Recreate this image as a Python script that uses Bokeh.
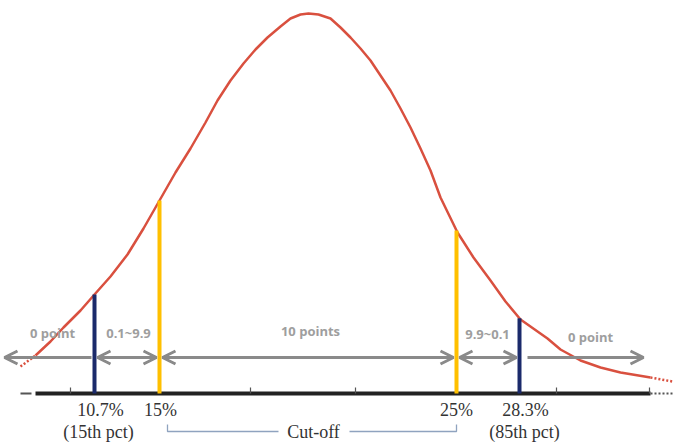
from bokeh.plotting import figure
from bokeh.models import Range1d, Arrow, OpenHead
from bokeh.embed import file_html
from bokeh.resources import INLINE
from bokeh.core.properties import value
import numpy as np

# Schematic score distribution (horizontal position, height above the base line)
curve_x = [20, 35, 50, 63, 80, 94, 110, 127, 143, 159, 175, 190, 205, 217, 230, 243, 255,
           267, 280, 290, 300, 308, 318, 330, 340, 350, 360, 370, 380, 390, 400, 410,
           420, 430, 440, 457, 473, 490, 505, 520, 547, 560, 580, 600, 620, 650, 672]
curve_y = [27, 38, 52, 66, 83, 99, 117, 139, 165, 193, 221, 245, 271, 293, 313, 330, 344,
           356, 367, 375, 379, 380, 379, 375, 366, 356, 345, 333, 318, 303, 285, 266,
           245, 223, 196, 161, 136, 113, 92, 74, 55, 44, 33, 26, 21, 16, 12]

# Percentile markers (15th / 85th) and cut-off markers
pct_pos = [94, 519]
pct_values = ["10.7%", "28.3%"]
pct_names = ["(15th pct)", "(85th pct)"]
cut_pos = [159, 456]
cut_values = ["15%", "25%"]

# Scoring bands between the markers
band_edges = [4, 94, 159, 456, 519, 643]
band_labels = ["0 point", "0.1~9.9", "10 points", "9.9~0.1", "0 point"]

axis_ticks = [70, 250, 355, 556, 649]

W, H = 674, 442
p = figure(width=W, height=H, output_backend="svg", toolbar_location=None,
           x_range=Range1d(0, W), y_range=Range1d(-49, 393),
           x_axis_location=None, y_axis_location=None, min_border=0)
p.grid.visible = False
p.outline_line_color = None
p.background_fill_color = "white"

# base line with ticks
p.line([35, 650], [0, 0], line_color="#222222", line_width=4)
p.line([20, 31], [0, 0], line_color="#555555", line_width=2)
p.line([650, 672], [0, 0], line_color="#555555", line_width=2, line_dash="2 2")
p.segment(x0=axis_ticks, y0=[0] * len(axis_ticks), x1=axis_ticks, y1=[6] * len(axis_ticks),
          line_color="#555555", line_width=1.2)

# distribution curve
red = "#d9503f"
p.line(curve_x[1:-1], curve_y[1:-1], line_color=red, line_width=2.5, line_join="round")
p.line(curve_x[:2], curve_y[:2], line_color=red, line_width=2.5, line_dash="2 2")
p.line(curve_x[-2:], curve_y[-2:], line_color=red, line_width=2.5, line_dash="2 2")

# vertical markers up to the curve
pct_top = list(np.interp(pct_pos, curve_x, curve_y))
cut_top = list(np.interp(cut_pos, curve_x, curve_y))
p.segment(x0=pct_pos, y0=[0, 0], x1=pct_pos, y1=pct_top, line_color="#1b2a6b", line_width=4)
p.segment(x0=cut_pos, y0=[0, 0], x1=cut_pos, y1=cut_top, line_color="#ffc000", line_width=4)

# scoring band arrows
gray = "#8a8a8a"
arrow_y = 36
gap = 3
for i in range(len(band_labels)):
    a, b = band_edges[i], band_edges[i + 1]
    if i == 0:
        p.add_layout(Arrow(x_start=b - gap, y_start=arrow_y, x_end=a, y_end=arrow_y,
                           line_color=gray, line_width=3,
                           end=OpenHead(size=13, line_color=gray, line_width=3)))
    elif i == len(band_labels) - 1:
        p.add_layout(Arrow(x_start=a + 8, y_start=arrow_y, x_end=b, y_end=arrow_y,
                           line_color=gray, line_width=3,
                           end=OpenHead(size=13, line_color=gray, line_width=3)))
    else:
        p.add_layout(Arrow(x_start=a + gap, y_start=arrow_y, x_end=b - gap, y_end=arrow_y,
                           line_color=gray, line_width=3,
                           start=OpenHead(size=13, line_color=gray, line_width=3),
                           end=OpenHead(size=13, line_color=gray, line_width=3)))

label_x = [52, 128, 310, 487, 590]
label_y = [61, 61, 63, 60, 57]
p.text(x=label_x, y=label_y, text=band_labels, text_align="center", text_baseline="middle",
       text_color="#9e9e9e", text_font=value("Open Sans"), text_font_size="13px",
       text_font_style="bold")

# bottom labels
serif = value("Liberation Serif")
txt = "#333333"
p.text(x=[100, 525], y=[-16, -16], text=pct_values, text_align="center", text_baseline="middle",
       text_color=txt, text_font=serif, text_font_size="18px")
p.text(x=[98, 524], y=[-38, -38], text=pct_names, text_align="center", text_baseline="middle",
       text_color=txt, text_font=serif, text_font_size="18px")
p.text(x=[160, 456], y=[-16, -16], text=cut_values, text_align="center", text_baseline="middle",
       text_color=txt, text_font=serif, text_font_size="18px")
p.text(x=[313], y=[-38], text=["Cut-off"], text_align="center", text_baseline="middle",
       text_color=txt, text_font=serif, text_font_size="18px")

# bracket joining the two cut-offs
bracket = "#8fa3bf"
p.line([cut_pos[0] + 8, cut_pos[0] + 8, 278], [-31, -38, -38], line_color=bracket, line_width=1.3)
p.line([349, cut_pos[1], cut_pos[1]], [-38, -38, -31], line_color=bracket, line_width=1.3)

open("out.html", "w").write(file_html(p, INLINE))
